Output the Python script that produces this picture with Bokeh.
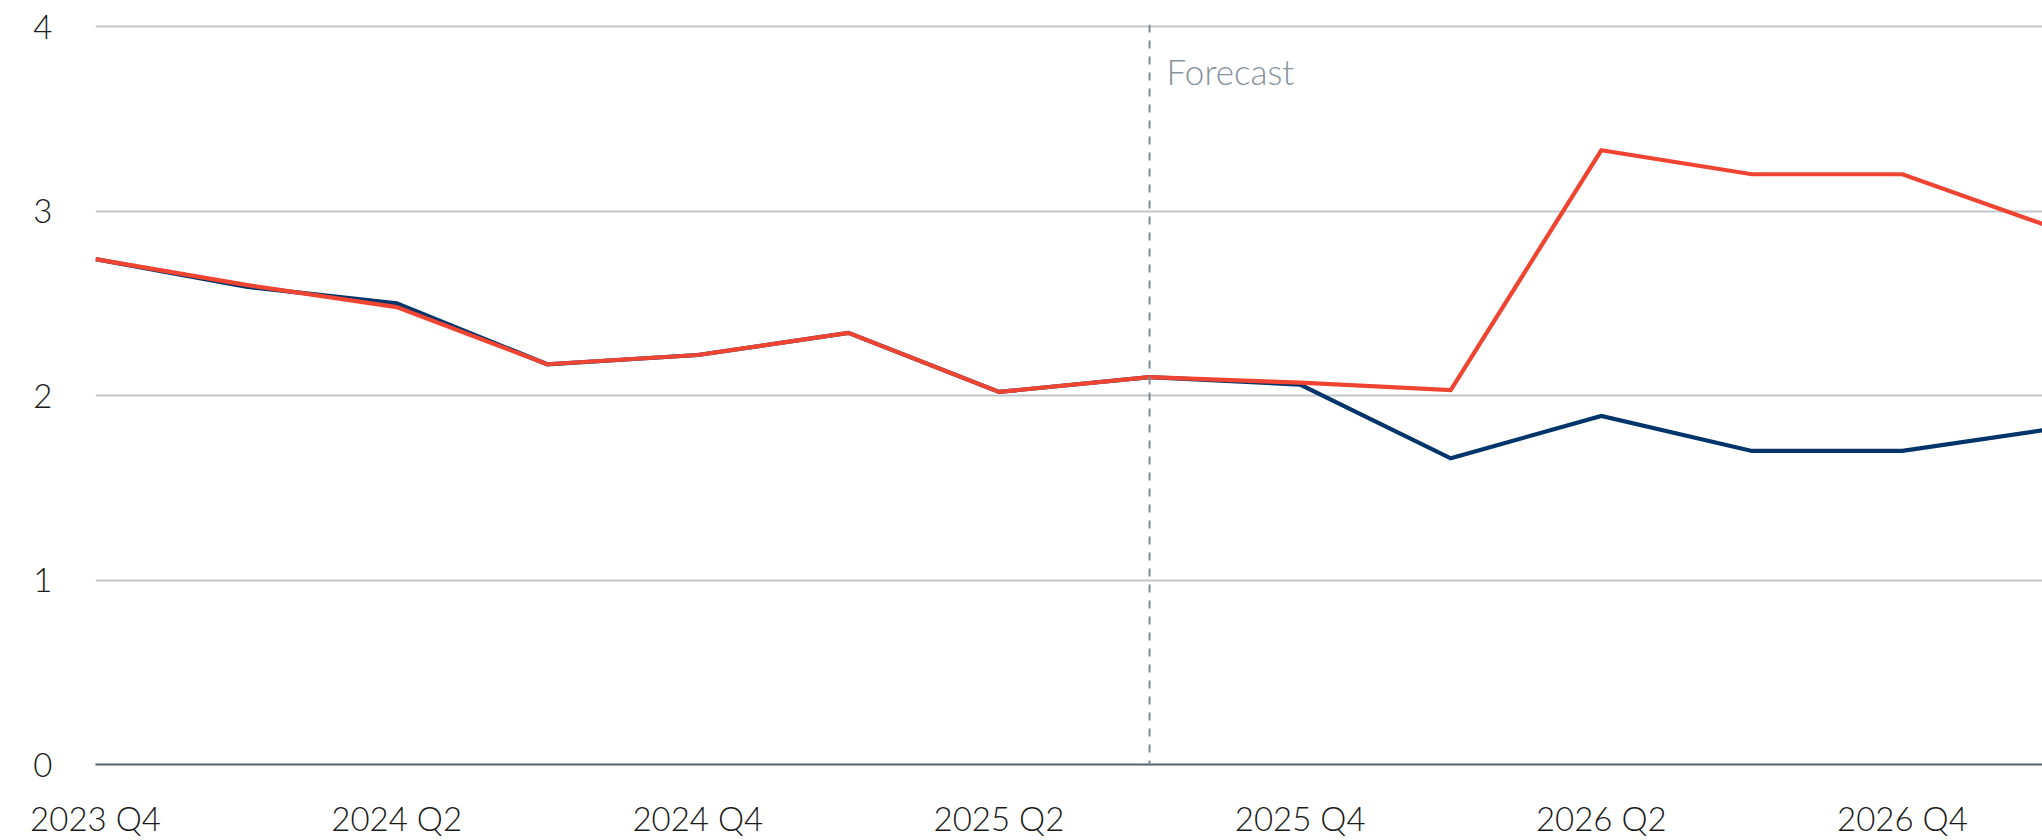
from bokeh.plotting import figure
from bokeh.models import FixedTicker, Span, Label, Range1d
from bokeh.embed import file_html
from bokeh.resources import INLINE

quarters = ["2023 Q4", "2024 Q1", "2024 Q2", "2024 Q3", "2024 Q4", "2025 Q1", "2025 Q2",
            "2025 Q3", "2025 Q4", "2026 Q1", "2026 Q2", "2026 Q3", "2026 Q4", "2027 Q1"]
baseline = [2.74, 2.59, 2.50, 2.17, 2.22, 2.34, 2.02, 2.10, 2.06, 1.66, 1.89, 1.70, 1.70, 1.82]
scenario = [2.74, 2.60, 2.48, 2.17, 2.22, 2.34, 2.02, 2.10, 2.07, 2.03, 3.33, 3.20, 3.20, 2.91]
y_ticks = [0, 1, 2, 3, 4]
forecast_start = "2025 Q3"
forecast_label = "Forecast"

xs = list(range(len(quarters)))
label_ticks = xs[::2]
label_map = {i: quarters[i] for i in label_ticks}

FONT = "Lato Light, Lato"

p = figure(width=2042, height=840, output_backend="svg", toolbar_location=None,
           x_range=Range1d(0, 12.93), y_range=Range1d(0, 4.012),
           min_border_left=95, min_border_right=0, min_border_top=24, min_border_bottom=72)
p.outline_line_color = None
p.background_fill_color = "white"

p.line(xs, baseline, line_color="#00356b", line_width=4.2, line_join="miter")
p.line(xs, scenario, line_color="#ee4431", line_width=4.2, line_join="miter")

fx = quarters.index(forecast_start)
p.add_layout(Span(location=fx, dimension="height", line_color="#7d8a94",
                  line_width=2, line_dash="8 8"))
p.add_layout(Label(x=fx, y=3.76, x_offset=17, text=forecast_label, text_font=FONT,
                   text_font_size="35px", text_color="#86939c", text_baseline="alphabetic"))

p.xgrid.grid_line_color = None
p.ygrid.grid_line_color = "#c2c7cc"
p.ygrid.grid_line_width = 2
p.ygrid.ticker = FixedTicker(ticks=y_ticks)

p.yaxis.ticker = FixedTicker(ticks=y_ticks)
p.yaxis.axis_line_color = None
p.yaxis.major_tick_line_color = None
p.yaxis.minor_tick_line_color = None
p.yaxis.major_label_standoff = 37
p.yaxis.major_label_text_font = FONT
p.yaxis.major_label_text_font_size = "33px"
p.yaxis.major_label_text_color = "#1a1a1a"

p.xaxis.ticker = FixedTicker(ticks=label_ticks)
p.xaxis.major_label_overrides = label_map
p.xaxis.axis_line_color = "#53626e"
p.xaxis.axis_line_width = 2
p.xaxis.major_tick_line_color = None
p.xaxis.minor_tick_line_color = None
p.xaxis.major_tick_out = 0
p.xaxis.major_label_standoff = 33
p.xaxis.major_label_text_font = FONT
p.xaxis.major_label_text_font_size = "33px"
p.xaxis.major_label_text_color = "#1a1a1a"

open("out.html", "w").write(file_html(p, INLINE))
